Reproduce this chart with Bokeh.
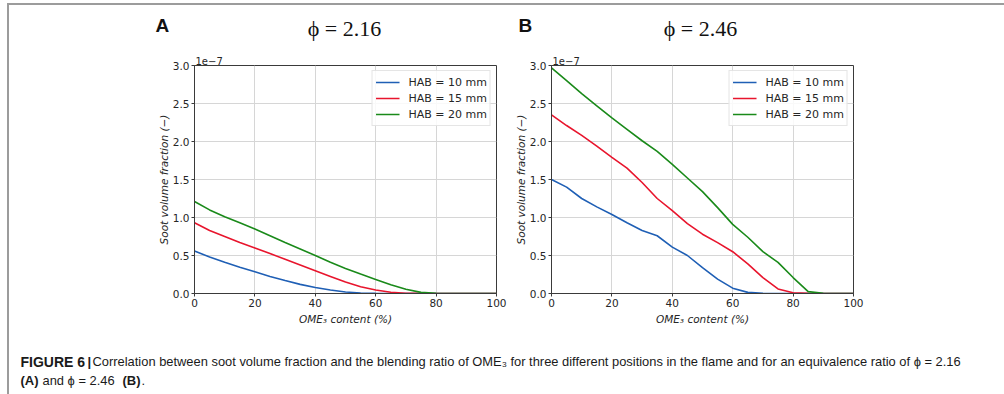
from bokeh.plotting import figure
from bokeh.models import Range1d, FixedTicker, PrintfTickFormatter, Spacer
from bokeh.layouts import row, column
from bokeh.embed import file_html
from bokeh.resources import INLINE
from bokeh.core.properties import value

# ---------------- data ----------------
ome_content = [0, 5, 10, 15, 20, 25, 30, 35, 40, 45, 50, 55, 60, 65, 70, 75, 80, 85, 90, 95, 100]

# phi = 2.16  (units of 1e-7)
a_hab10 = [0.56, 0.48, 0.41, 0.345, 0.285, 0.225, 0.17, 0.12, 0.08, 0.045, 0.02, 0.007, 0.002,
           0, 0, 0, 0, 0, 0, 0, 0]
a_hab15 = [0.93, 0.83, 0.75, 0.67, 0.60, 0.525, 0.45, 0.375, 0.30, 0.225, 0.15, 0.09, 0.045,
           0.017, 0.004, 0.001, 0, 0, 0, 0, 0]
a_hab20 = [1.21, 1.10, 1.01, 0.93, 0.85, 0.76, 0.67, 0.585, 0.50, 0.41, 0.33, 0.255, 0.185,
           0.115, 0.055, 0.015, 0.002, 0, 0, 0, 0]

# phi = 2.46  (units of 1e-7)
b_hab10 = [1.50, 1.40, 1.25, 1.14, 1.04, 0.93, 0.83, 0.76, 0.61, 0.50, 0.34, 0.19, 0.07,
           0.015, 0.003, 0, 0, 0, 0, 0, 0]
b_hab15 = [2.35, 2.21, 2.08, 1.94, 1.79, 1.65, 1.46, 1.25, 1.09, 0.92, 0.78, 0.67, 0.55,
           0.39, 0.21, 0.06, 0.01, 0.002, 0, 0, 0]
b_hab20 = [2.97, 2.80, 2.63, 2.47, 2.31, 2.16, 2.01, 1.87, 1.70, 1.52, 1.34, 1.13, 0.91,
           0.74, 0.55, 0.41, 0.21, 0.025, 0.003, 0, 0]

series_labels = ["HAB = 10 mm", "HAB = 15 mm", "HAB = 20 mm"]
series_colors = ["#1f5fb5", "#e8152d", "#1a8a1a"]
x_ticks = [0, 20, 40, 60, 80, 100]
y_ticks = [0.0, 0.5, 1.0, 1.5, 2.0, 2.5, 3.0]
panel_letters = ["A", "B"]
panel_titles = ["\u03d5 = 2.16", "\u03d5 = 2.46"]
x_label = "OME\u2083 content (%)"
y_label = "Soot volume fraction (\u2212)"
offset_text = "1e\u22127"

TICK_FONT = "DejaVu Sans"
AX_COL = "#3a3a3a"
TXT_COL = "#262626"


def make_panel(ys, width, left, right):
    p = figure(width=width, height=280, output_backend="svg", toolbar_location=None,
               x_range=Range1d(0, 100), y_range=Range1d(0, 3.0),
               min_border_left=left, min_border_right=right,
               min_border_top=15, min_border_bottom=37,
               title=offset_text,
               background_fill_color="white", border_fill_color="white")
    p.title.align = "left"
    p.title.offset = 1
    p.title.standoff = 1
    p.title.text_font = TICK_FONT
    p.title.text_font_size = "10px"
    p.title.text_font_style = "normal"
    p.title.text_color = TXT_COL

    p.outline_line_color = AX_COL
    p.outline_line_width = 1

    for ax in (p.xaxis[0], p.yaxis[0]):
        ax.axis_line_color = AX_COL
        ax.major_tick_line_color = AX_COL
        ax.major_tick_out = 3
        ax.major_tick_in = 0
        ax.minor_tick_line_color = None
        ax.major_label_text_font = TICK_FONT
        ax.major_label_text_font_size = "10.5px"
        ax.major_label_text_color = TXT_COL
        ax.major_label_standoff = 2
        ax.axis_label_text_font = TICK_FONT
        ax.axis_label_text_font_size = "10.5px"
        ax.axis_label_text_font_style = "italic"
        ax.axis_label_text_color = TXT_COL
    p.xaxis.axis_label_standoff = 3
    p.yaxis.axis_label_standoff = 0

    p.xaxis.ticker = FixedTicker(ticks=x_ticks)
    p.yaxis.ticker = FixedTicker(ticks=y_ticks)
    p.yaxis.formatter = PrintfTickFormatter(format="%.1f")
    p.xaxis.axis_label = x_label
    p.yaxis.axis_label = y_label

    p.xgrid.ticker = FixedTicker(ticks=x_ticks)
    p.ygrid.ticker = FixedTicker(ticks=y_ticks)
    p.grid.grid_line_color = "#d6d6d6"
    p.grid.grid_line_width = 1

    for vals, lab, col in zip(ys, series_labels, series_colors):
        p.line(ome_content, vals, line_color=col, line_width=1.6, legend_label=lab)

    lg = p.legend[0]
    lg.location = "top_right"
    lg.margin = 5
    lg.padding = 3
    lg.spacing = 0
    lg.glyph_width = 24
    lg.glyph_height = 16
    lg.label_height = 16
    lg.label_standoff = 9
    lg.label_text_font = TICK_FONT
    lg.label_text_font_size = "11px"
    lg.label_text_color = TXT_COL
    lg.border_line_color = "#cccccc"
    lg.border_line_width = 1
    lg.background_fill_color = "white"
    lg.background_fill_alpha = 0.85
    return p


pa = make_panel([a_hab10, a_hab15, a_hab20], width=498, left=185, right=11)
pb = make_panel([b_hab10, b_hab15, b_hab20], width=497, left=44, right=151)


def page_fig(h, y0, y1):
    f = figure(width=995, height=h, output_backend="svg", toolbar_location=None,
               x_range=Range1d(9, 1004), y_range=Range1d(y1, y0),
               min_border=0, min_border_left=0, min_border_right=0,
               min_border_top=0, min_border_bottom=0)
    f.axis.visible = False
    f.grid.visible = False
    f.outline_line_color = None
    f.background_fill_color = "white"
    f.border_fill_color = "white"
    return f


# ---------------- panel headers ----------------
head = page_fig(45, 5, 50)
head.text(x=[155, 518], y=[25, 25], text=panel_letters, text_font=value("Liberation Sans"),
          text_font_size="19px", text_font_style="bold", text_color="#111111",
          text_baseline="middle", text_align="left")
head.text(x=[344, 700], y=[28, 28], text=panel_titles, text_font=value("Liberation Serif"),
          text_font_size="22px", text_color="#111111",
          text_baseline="middle", text_align="center")

# ---------------- caption ----------------
cap = page_fig(64, 330, 394)
CAP_FONT = "Liberation Sans"
bold_txt = ["FIGURE 6", "|", "(A)", "(B)"]
bold_x = [20, 87, 20, 122]
bold_y = [361, 361, 379.5, 379.5]
bold_size = ["14px", "13px", "13px", "13px"]
reg_txt = ["Correlation between soot volume fraction and the blending ratio of OME\u2083 for three "
           "different positions in the flame and for an equivalence ratio of \u03d5 = 2.16",
           "and \u03d5 = 2.46", "."]
reg_x = [92, 42, 141]
reg_y = [361, 379.5, 379.5]
cap.text(x=bold_x, y=bold_y, text=bold_txt, text_font=value(CAP_FONT), text_font_size=bold_size,
         text_font_style="bold", text_color="#1a1a1a", text_baseline="middle")
cap.text(x=reg_x, y=reg_y, text=reg_txt, text_font=value(CAP_FONT), text_font_size="12.9px",
         text_color="#1a1a1a", text_baseline="middle")

# ---------------- page frame lines ----------------
top_line = Spacer(width=995, height=2, styles={"background-color": "#9c9c9c"})
left_line = Spacer(width=2, height=391, styles={"background-color": "#9c9c9c"})

layout = column(
    Spacer(width=1004, height=3),
    row(Spacer(width=7, height=391), left_line,
        column(top_line, head, row(pa, pb), cap)),
)

TEMPLATE = """
{% block postamble %}
<style>html, body { margin: 0; padding: 0; }</style>
{% endblock %}
"""

open("out.html", "w").write(file_html(layout, INLINE, template=TEMPLATE))
